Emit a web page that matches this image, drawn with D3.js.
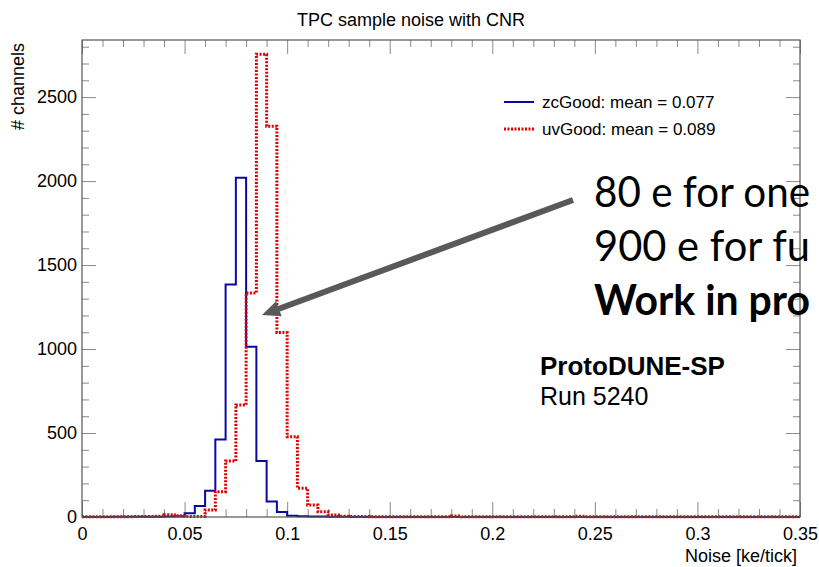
<!DOCTYPE html>
<html>
<head>
<meta charset="utf-8">
<script src="https://cdn.jsdelivr.net/npm/d3@7"></script>
<style>
  html, body { margin: 0; padding: 0; background: #fff; overflow: hidden; }
  svg { display: block; }
  .axis path { display: none; }
  .axis text { font-family: "Liberation Sans", Arial, sans-serif; font-size: 18px; fill: #000; }
</style>
</head>
<body>
<div id="chart"></div>
<script>
// Histogram binning (70 bins of 0.005 from 0 to 0.35)
const binStart = 0;
const binWidth = 0.005;

// zcGood counts per bin
const zcGood = [
  0, 0, 0, 1, 1, 1, 2, 2, 3, 5,
  22, 65, 157, 462, 1385, 2020, 1014, 333, 93, 30,
  8, 4, 3, 3, 1, 1, 0, 0, 0, 0,
  0, 0, 0, 0, 0, 0, 0, 0, 0, 0,
  0, 0, 0, 0, 0, 0, 0, 0, 0, 0,
  0, 0, 0, 0, 0, 0, 0, 0, 0, 0,
  0, 0, 0, 0, 0, 0, 0, 0, 0, 0
];

// uvGood counts per bin
const uvGood = [
  2, 1, 1, 2, 2, 3, 3, 4, 14, 8,
  3, 3, 42, 151, 333, 667, 1333, 2755, 2327, 1099,
  478, 171, 71, 32, 12, 5, 3, 3, 2, 2,
  2, 2, 2, 2, 2, 2, 6, 2, 2, 2,
  1, 1, 1, 1, 1, 1, 2, 2, 5, 2,
  1, 1, 1, 1, 1, 1, 1, 1, 1, 1,
  1, 1, 1, 1, 1, 1, 1, 1, 1, 1
];

const xMajorTicks = [0, 0.05, 0.1, 0.15, 0.2, 0.25, 0.3, 0.35];
const xTickLabels = ["0", "0.05", "0.1", "0.15", "0.2", "0.25", "0.3", "0.35"];
const yMajorTicks = [0, 500, 1000, 1500, 2000, 2500];

const legendLabels = ["zcGood: mean = 0.077", "uvGood: mean = 0.089"];
// only the part visible inside the picture
const noteLines = ["80 e for one", "900 e for fu", "Work in pro"];

// Frame
const W = 819, H = 567;
const frame = { left: 82, right: 800, top: 40, bottom: 517 };

const svg = d3.select("#chart").append("svg")
  .attr("width", W)
  .attr("height", H);

const x = d3.scaleLinear().domain([0, 0.35]).range([frame.left, frame.right]);
const y = d3.scaleLinear().domain([0, 2840]).range([frame.bottom, frame.top]);

const xMinor = d3.range(0, 0.3501, 0.01).filter(v => Math.abs(v / 0.05 - Math.round(v / 0.05)) > 1e-6);
const yMinor = d3.range(0, 2801, 100).filter(v => v % 500 !== 0);

const tickColor = "#8a8a8a";

// Ticks (inward, on all four sides)
function tickAxis(axis, tx, ty) {
  const g = svg.append("g")
    .attr("class", "axis")
    .attr("transform", `translate(${tx},${ty})`)
    .call(axis);
  g.selectAll("line").attr("stroke", tickColor);
  return g;
}

tickAxis(d3.axisBottom(x).tickValues(xMajorTicks).tickSize(-15).tickFormat(""), 0, frame.bottom);
tickAxis(d3.axisBottom(x).tickValues(xMinor).tickSize(-8).tickFormat(""), 0, frame.bottom);
tickAxis(d3.axisTop(x).tickValues(xMajorTicks).tickSize(-14).tickFormat(""), 0, frame.top);
tickAxis(d3.axisTop(x).tickValues(xMinor).tickSize(-7).tickFormat(""), 0, frame.top);
tickAxis(d3.axisLeft(y).tickValues(yMajorTicks).tickSize(-14).tickFormat(""), frame.left, 0);
tickAxis(d3.axisLeft(y).tickValues(yMinor).tickSize(-7).tickFormat(""), frame.left, 0);
tickAxis(d3.axisRight(y).tickValues(yMajorTicks).tickSize(-14).tickFormat(""), frame.right, 0);
tickAxis(d3.axisRight(y).tickValues(yMinor).tickSize(-7).tickFormat(""), frame.right, 0);

// Tick labels
const xLab = svg.append("g")
  .attr("class", "axis")
  .attr("transform", `translate(0,${frame.bottom})`)
  .call(d3.axisBottom(x).tickValues(xMajorTicks).tickSize(0).tickPadding(10)
    .tickFormat((d, i) => xTickLabels[i]));
xLab.selectAll("text").attr("dy", "0.71em");

svg.append("g")
  .attr("class", "axis")
  .attr("transform", `translate(${frame.left},0)`)
  .call(d3.axisLeft(y).tickValues(yMajorTicks).tickSize(0).tickPadding(5).tickFormat(d3.format("d")));

// Histograms
function histPoints(counts) {
  const pts = counts.map((c, i) => [binStart + i * binWidth, c]);
  pts.push([binStart + counts.length * binWidth, counts[counts.length - 1]]);
  return pts;
}

const stepLine = d3.line()
  .x(d => x(d[0]))
  .y(d => y(d[1]))
  .curve(d3.curveStepAfter);

svg.append("path")
  .datum(histPoints(zcGood))
  .attr("d", stepLine)
  .attr("fill", "none")
  .attr("stroke", "#0a0aa0")
  .attr("stroke-width", 2);

svg.append("path")
  .datum(histPoints(uvGood))
  .attr("d", stepLine)
  .attr("fill", "none")
  .attr("stroke", "#e00000")
  .attr("stroke-width", 3)
  .attr("stroke-dasharray", "2,1.5");

// Frame
svg.append("rect")
  .attr("x", frame.left)
  .attr("y", frame.top)
  .attr("width", frame.right - frame.left)
  .attr("height", frame.bottom - frame.top)
  .attr("fill", "none")
  .attr("stroke", "#555")
  .attr("stroke-width", 1.2);

// Titles
const helv = "Liberation Sans, Arial, sans-serif";

svg.append("text")
  .attr("x", 411)
  .attr("y", 26)
  .attr("text-anchor", "middle")
  .style("font-family", helv)
  .style("font-size", "18px")
  .text("TPC sample noise with CNR");

svg.append("text")
  .attr("x", 797)
  .attr("y", 562)
  .attr("text-anchor", "end")
  .style("font-family", helv)
  .style("font-size", "18px")
  .text("Noise [ke/tick]");

svg.append("text")
  .attr("transform", "translate(24,43) rotate(-90)")
  .attr("text-anchor", "end")
  .style("font-family", helv)
  .style("font-size", "18px")
  .text("# channels");

// Legend
const legend = svg.append("g").attr("transform", "translate(504,102)");
const legendStyles = [
  { stroke: "#0a0aa0", width: 2, dash: null },
  { stroke: "#e00000", width: 3, dash: "2,1.5" }
];
legendLabels.forEach((label, i) => {
  const row = legend.append("g").attr("transform", `translate(0,${i * 27})`);
  row.append("line")
    .attr("x1", 0).attr("x2", 30)
    .attr("stroke", legendStyles[i].stroke)
    .attr("stroke-width", legendStyles[i].width)
    .attr("stroke-dasharray", legendStyles[i].dash);
  row.append("text")
    .attr("x", 38)
    .attr("y", 6)
    .style("font-family", helv)
    .style("font-size", "17px")
    .text(label);
});

// Arrow annotation
const tail = [573, 200], tip = [262, 315];
const dx = tip[0] - tail[0], dy = tip[1] - tail[1];
const len = Math.hypot(dx, dy);
const ux = dx / len, uy = dy / len;
const headLen = 18, headHalf = 8;
const base = [tip[0] - ux * headLen, tip[1] - uy * headLen];

svg.append("line")
  .attr("x1", tail[0]).attr("y1", tail[1])
  .attr("x2", base[0] + ux * 2).attr("y2", base[1] + uy * 2)
  .attr("stroke", "#595959")
  .attr("stroke-width", 6);

svg.append("path")
  .attr("d", d3.line()([
    tip,
    [base[0] - uy * headHalf, base[1] + ux * headHalf],
    [base[0] + uy * headHalf, base[1] - ux * headHalf]
  ]) + "Z")
  .attr("fill", "#595959");

// Slide note: squeeze a line a little if it would run past the right edge
const noteX = 594, noteMax = W - noteX - 9;
noteLines.forEach((line, i) => {
  const t = svg.append("text")
    .attr("x", noteX)
    .attr("y", 207 + i * 54)
    .style("font-family", "Lato, 'Open Sans', sans-serif")
    .style("font-size", "42px")
    .style("font-weight", i === 2 ? "bold" : "normal")
    .text(line);
  if (t.node().getComputedTextLength() > noteMax) {
    t.attr("textLength", noteMax).attr("lengthAdjust", "spacingAndGlyphs");
  }
});

svg.append("text")
  .attr("x", 540)
  .attr("y", 375)
  .style("font-family", helv)
  .style("font-size", "26px")
  .style("font-weight", "bold")
  .text("ProtoDUNE-SP");

svg.append("text")
  .attr("x", 540)
  .attr("y", 405)
  .style("font-family", helv)
  .style("font-size", "25px")
  .text("Run 5240");
</script>
</body>
</html>
